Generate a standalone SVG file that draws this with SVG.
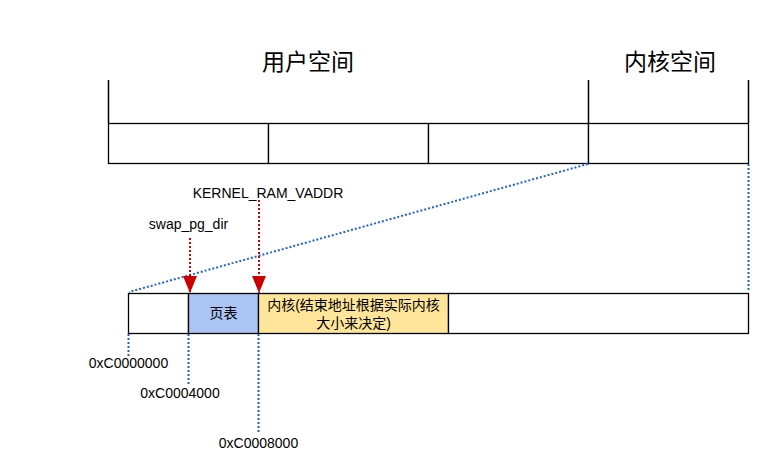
<svg xmlns="http://www.w3.org/2000/svg" width="773" height="470" viewBox="0 0 773 470">
<style>
.t{font-family:"Liberation Sans","Noto Sans CJK SC",sans-serif;fill:#000}
.b{fill:#fff;stroke:#000;stroke-width:1.3}
.dot{stroke:#1f63d6;stroke-width:2;stroke-dasharray:2 2;fill:none}
.red{stroke:#cc0000;stroke-width:2;stroke-dasharray:2 2;fill:none}
</style>
<defs>
<marker id="ah" markerWidth="17" markerHeight="14" refX="17" refY="7" orient="auto" markerUnits="userSpaceOnUse" viewBox="0 0 17 14">
<path d="M0,0 L17,7 L0,14 Z" fill="#cc0000"/>
</marker>
</defs>
<rect width="773" height="470" fill="#fff"/>
<g id="titles">
<text class="t" x="308" y="70" font-size="23" text-anchor="middle">用户空间</text>
<text class="t" x="670" y="70" font-size="23" text-anchor="middle">内核空间</text>
</g>
<g id="top-row">
<line x1="108.5" y1="80" x2="108.5" y2="123" stroke="#000" stroke-width="1.5"/>
<line x1="588.5" y1="80" x2="588.5" y2="123" stroke="#000" stroke-width="1.5"/>
<line x1="748.5" y1="80" x2="748.5" y2="123" stroke="#000" stroke-width="1.5"/>
<rect id="u1" class="b" x="108.5" y="123.5" width="160" height="40"/>
<rect id="u2" class="b" x="268.5" y="123.5" width="160" height="40"/>
<rect id="u3" class="b" x="428.5" y="123.5" width="160" height="40"/>
<rect id="k1" class="b" x="588.5" y="123.5" width="160" height="40"/>
</g>
<g id="connectors">
<line class="dot" x1="588" y1="164" x2="129" y2="292"/>
<line class="dot" x1="748.5" y1="164" x2="748.5" y2="292"/>
<line class="dot" x1="128.5" y1="334" x2="128.5" y2="356"/>
<line class="dot" x1="188.5" y1="334" x2="188.5" y2="386"/>
<line class="dot" x1="258.5" y1="334" x2="258.5" y2="432"/>
<line class="red" x1="190" y1="238" x2="190" y2="293" marker-end="url(#ah)"/>
<line class="red" x1="259" y1="200" x2="259" y2="293" marker-end="url(#ah)"/>
</g>
<g id="bottom-row">
<rect id="m0" class="b" x="128.5" y="293.5" width="60" height="40"/>
<rect id="pt" class="b" x="188.5" y="293.5" width="70" height="40" style="fill:#a9c4f5"/>
<rect id="kern" class="b" x="258.5" y="293.5" width="190" height="40" style="fill:#ffe599"/>
<rect id="rest" class="b" x="448.5" y="293.5" width="300" height="40"/>
<text class="t" x="223.5" y="318" font-size="14" text-anchor="middle">页表</text>
<text class="t" x="353.5" y="310" font-size="14" text-anchor="middle">内核(结束地址根据实际内核</text>
<text class="t" x="353.5" y="328" font-size="14" text-anchor="middle">大小来决定)</text>
</g>
<g id="labels">
<text class="t" x="188.5" y="229" font-size="14" text-anchor="middle">swap_pg_dir</text>
<text class="t" x="268" y="198" font-size="14" text-anchor="middle">KERNEL_RAM_VADDR</text>
<text class="t" x="128.5" y="368" font-size="14" text-anchor="middle">0xC0000000</text>
<text class="t" x="180" y="398" font-size="14" text-anchor="middle">0xC0004000</text>
<text class="t" x="258.5" y="448" font-size="14" text-anchor="middle">0xC0008000</text>
</g>
</svg>
